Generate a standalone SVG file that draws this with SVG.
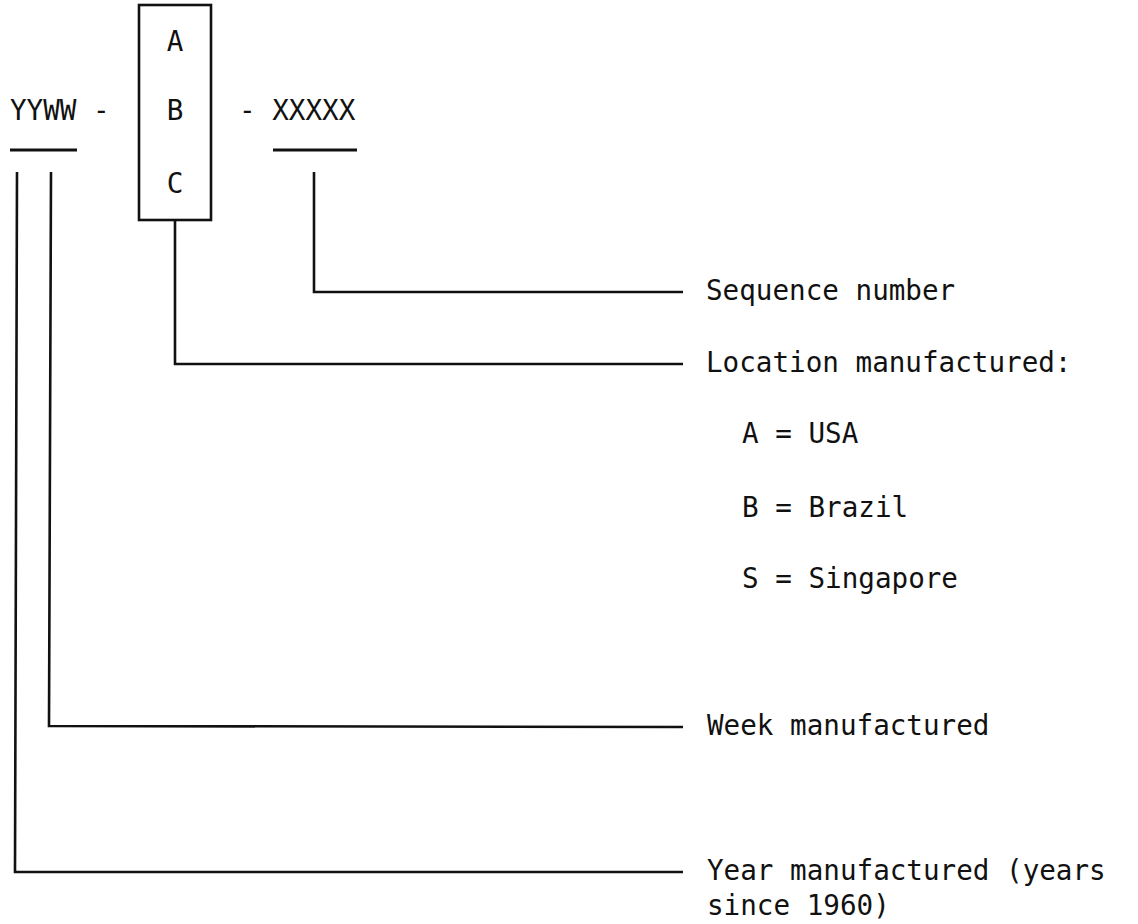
<svg xmlns="http://www.w3.org/2000/svg" width="1138" height="924" viewBox="0 0 1138 924">
<style>
text{font-family:"DejaVu Sans Mono","Liberation Mono",monospace;font-size:27.6px;fill:#111}
.ln{stroke:#111;stroke-width:2.6;fill:none;stroke-linejoin:miter}
.ul{stroke:#111;stroke-width:3;fill:none}
</style>
<rect width="1138" height="924" fill="#fff"/>
<g id="code">
<text x="10" y="120">YYWW -</text>
<line class="ul" x1="10" y1="150" x2="77" y2="150"/>
<text x="239" y="120">- XXXXX</text>
<line class="ul" x1="273" y1="150" x2="357" y2="150"/>
</g>
<g id="locbox">
<rect class="ln" x="139" y="5" width="72" height="215"/>
<text x="175" y="51" text-anchor="middle">A</text>
<text x="175" y="120" text-anchor="middle">B</text>
<text x="175" y="193" text-anchor="middle">C</text>
</g>
<g id="connectors">
<polyline class="ln" points="314,172 314,292 683,292"/>
<polyline class="ln" points="175,220 175,364 683,364"/>
<polyline class="ln" points="51,172 49,726 683,727"/>
<polyline class="ln" points="17,172 15,872 683,872"/>
</g>
<g id="seq"><text x="706" y="300">Sequence number</text></g>
<g id="loc">
<text x="706" y="372">Location manufactured:</text>
<text x="742" y="443">A = USA</text>
<text x="742" y="517">B = Brazil</text>
<text x="742" y="588">S = Singapore</text>
</g>
<g id="week"><text x="707" y="735">Week manufactured</text></g>
<g id="year">
<text x="707" y="880">Year manufactured (years</text>
<text x="707" y="915">since 1960)</text>
</g>
</svg>
